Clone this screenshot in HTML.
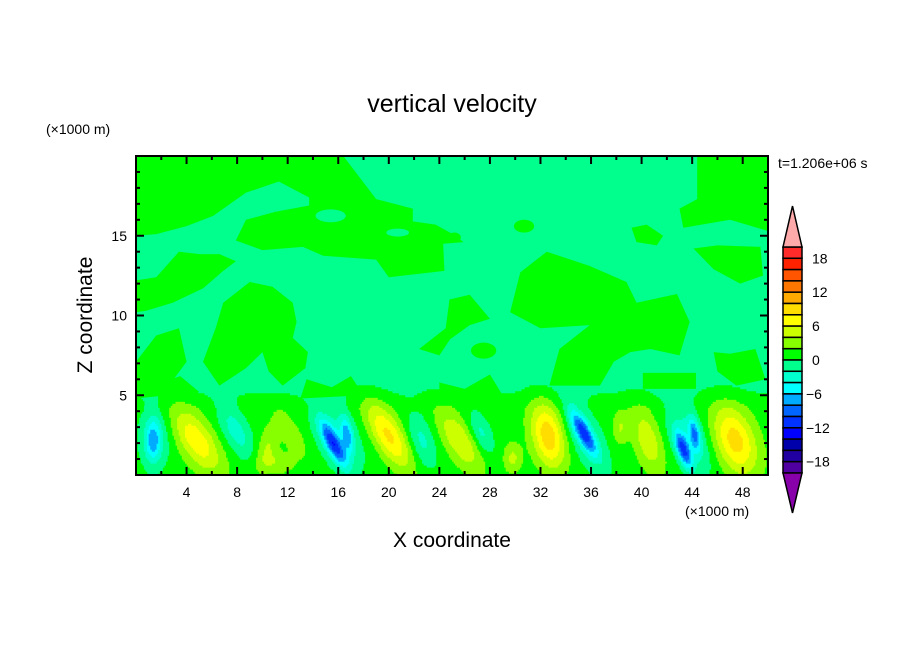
<!DOCTYPE html>
<html><head><meta charset="utf-8"><style>
html,body{margin:0;padding:0;background:#fff;}
svg{display:block;font-family:"Liberation Sans",sans-serif;}
</style></head><body>
<svg id="chart" width="904" height="654" viewBox="0 0 904 654">
<defs><clipPath id="clip"><rect x="136" y="156" width="632" height="319"/></clipPath></defs>
<text x="452" y="112" font-size="25" text-anchor="middle">vertical velocity</text>
<text x="46" y="134" font-size="14">(×1000 m)</text>
<text x="778" y="168" font-size="14">t=1.206e+06 s</text>
<text x="685" y="516" font-size="14">(×1000 m)</text>
<text x="452" y="547" font-size="21" text-anchor="middle">X coordinate</text>
<text transform="translate(92,315) rotate(-90)" font-size="21" text-anchor="middle">Z coordinate</text>
<g id="field" clip-path="url(#clip)"></g>
<g id="axes"></g>
<g id="cbar"></g>
</svg>
<script>
// field blobs near the ground (km, km, m/s, km, km, shear)
const blobX   = [4.8,1.35,1.5,7.9,10.4,12.3,11.2,15.6,16.7,16.0,20.0,22.6,25.6,27.3,29.8,32.6,35.4,35.6,38.3,40.5,43.3,44.2,43.8,47.4];
const blobZ   = [2.2,2.2,2.4,2.8,1.8,2.6,0.8,2.0,2.6,2.4,2.5,2.2,2.2,2.7,1.1,2.5,2.7,2.4,3.0,2.2,1.6,2.6,2.3,2.2];
const blobAmp = [6.5,-6,-3,-4,3,3,2.5,-10,-6,-3.5,7.5,-3.5,5,-3.5,3.5,8.5,-9,-4,3,4.5,-10,-7,-4,8];
const blobWx  = [1.5,0.6,1.3,1.1,0.8,0.8,1.4,0.65,0.45,1.7,1.25,1.0,1.25,0.8,0.7,1.25,0.6,1.3,0.6,1.1,0.5,0.4,1.5,1.6];
const blobWz  = [2.0,1.3,2.0,1.7,1.5,1.3,0.7,1.4,1.1,2.2,2.0,1.7,1.9,1.3,0.9,2.0,1.3,2.2,1.0,2.0,1.1,1.0,2.2,2.1];
const blobTilt= [0.6,0,0,0.5,-0.3,0.6,0,0.6,0.2,0.4,0.6,0.3,0.6,0.4,0,0.2,0.6,0.5,0,0.3,0.4,0.2,0.4,0.3];
const baselineLow = 1.0, baselineHigh = -1.0;
// green (0..2 m/s) regions in the upper domain, [x,z] km
const greenRegions = [
 [[0,20],[16.4,20],[19,17.3],[21.9,16.7],[21.9,15.9],[23.7,15.7],[25.3,15],[25.9,14.6],[24.3,14.5],[24.4,12.8],[20,12.4],[19,13.5],[14.8,13.75],[13.2,14.3],[10,14.1],[7.9,14.7],[8.7,16],[11,16.5],[13.7,16.9],[13.7,17.4],[11.3,18.4],[8.7,17.7],[6.1,16.25],[4,15.6],[1.6,15.1],[0,15]],
 [[0,12.2],[1.6,12.4],[3.4,14],[5,13.85],[6.6,13.85],[7.9,13.4],[6.9,12.8],[5.3,11.7],[2.9,10.8],[0.8,10.3],[0,10.2]],
 [[6.9,10.8],[9,12.1],[10.8,11.8],[12.4,10.8],[12.7,9.6],[12.4,8.6],[13.6,7.7],[13.4,6.7],[11.6,5.6],[10.5,6.5],[10,7.7],[8.7,6.7],[6.6,5.6],[5.3,7.1],[6.3,9.2]],
 [[0,7.1],[1.6,8.75],[3.4,9.2],[4,7.1],[2.6,5.6],[0,5.6]],
 [[22.4,7.9],[24.5,9.2],[24.8,11],[26.4,11.3],[28,9.8],[26.4,9.4],[24.84,8.5],[24,7.5]],
 [[32.5,14],[35.9,13.1],[38.8,12.1],[39.6,10.8],[42.8,11.35],[43.8,9.6],[43,7.5],[40.7,7.9],[39.1,7.7],[37.8,7.1],[36.7,5.6],[32.7,5.6],[33.5,7.9],[35.9,9.4],[32,9.2],[29.6,10.2],[30.4,12.7]],
 [[44.4,20],[50,20],[50,15.3],[47,16],[43.3,15.5],[43,16.7],[44.4,17.3]],
 [[39.2,15.5],[40.4,15.7],[41.7,15],[41.2,14.4],[39.6,14.6]],
 [[44.1,14.2],[46,14.4],[49.4,14.3],[49.6,12.5],[47.8,12],[45.7,12.9]],
 [[45.7,7.7],[47,7.6],[49,7.9],[49.8,6],[47.5,5.6],[46,6.5]],
 [[40.1,6.4],[44.3,6.4],[44.3,5.4],[40.1,5.4]],
 [[0,6.3],[2,5.8],[3.5,6.2],[5,5.2],[0,4.8]],
 [[13.5,6],[15.5,5.5],[17,6.2],[18,5],[13,4.8]],
 [[24,5.8],[26,5.4],[28,6.3],[29,5],[24,4.8]]
];
// spring-green holes / small green ellipses [x,z,rx,rz]
const holeEllipses = [[15.4,16.25,1.2,0.4],[20.7,15.2,0.9,0.25]];
const greenEllipses = [[30.7,15.6,0.8,0.4],[25.2,14.9,0.5,0.3],[27.5,7.8,1.0,0.5]];
const levelColors = ['#5000a0','#2000a0','#0000aa','#0000ff','#0033ff','#0066ff','#00aaff','#00ffff','#00ffcc','#00ff8c','#00ff00','#88ff00','#ccff00','#ffff00','#ffdd00','#ffaa00','#ff7700','#ff5500','#ff2200','#ff2a2a'];
const cbarTicks = [18,12,6,0,-6,-12,-18];
const xTicks = [4,8,12,16,20,24,28,32,36,40,44,48];
const zTicks = [5,10,15];

const NS='http://www.w3.org/2000/svg';
const X0=136,X1=768,Y0=475,Y1=156;
const sx=x=>X0+(X1-X0)*x/50, sz=z=>Y0-(Y0-Y1)*z/20;
function mk(tag,attrs,parent){const e=document.createElementNS(NS,tag);for(const k in attrs)e.setAttribute(k,attrs[k]);parent.appendChild(e);return e;}
const field=document.getElementById('field');
let r=mk('rect',{x:X0,y:Y1,width:X1-X0,height:Y0-Y1,fill:'#00ff8c'},field);


greenRegions.forEach(poly=>{
 const p=mk('polygon',{points:poly.map(q=>sx(q[0])+','+sz(q[1])).join(' '),fill:'#00ff00'},field);
 
 
});
greenEllipses.forEach(e=>{
 const el=mk('ellipse',{cx:sx(e[0]),cy:sz(e[1]),rx:sx(e[2])-X0,ry:Y0-sz(e[3]),fill:'#00ff00'},field);
 
 
});
holeEllipses.forEach(e=>{
 const el=mk('ellipse',{cx:sx(e[0]),cy:sz(e[1]),rx:sx(e[2])-X0,ry:Y0-sz(e[3]),fill:'#00ff8c'},field);
 
 
});
// low-level field grid
const dx=0.125,dz=0.125,NX=400,NZ=48;
function base(z){if(z<4.2)return baselineLow;if(z>6)return baselineHigh;return baselineLow+(baselineHigh-baselineLow)*(z-4.2)/1.8;}
function val(x,z){let v=base(z);for(let i=0;i<blobX.length;i++){const zz=(z-blobZ[i])/blobWz[i];const xx=((x-blobX[i])+blobTilt[i]*(z-blobZ[i]))/blobWx[i];v+=blobAmp[i]*Math.exp(-xx*xx-zz*zz);}return v;}
function col(v){let k=Math.floor(v/2)+10;k=Math.max(0,Math.min(19,k));return levelColors[k];}
for(let j=0;j<NZ;j++){
 const z=(j+0.5)*dz;let start=0,c=col(val(0.5*dx,z));
 for(let i=1;i<=NX;i++){
  const c2=i<NX?col(val((i+0.5)*dx,z)):null;
  if(c2!==c){
   if(!(z>4.4&&c==='#00ff8c')){
    const rc=mk('rect',{x:sx(start*dx),y:sz((j+1)*dz),width:sx(i*dx)-sx(start*dx)+0.6,height:sz(j*dz)-sz((j+1)*dz)+0.6,fill:c},field);
    
    
   }
   start=i;c=c2;
  }
 }
}
// axes
const ax=document.getElementById('axes');
mk('rect',{x:X0,y:Y1,width:X1-X0,height:Y0-Y1,fill:'none',stroke:'#000','stroke-width':2},ax);
for(let x=2;x<50;x+=2){const L=(x%4===0)?8:4;
 mk('line',{x1:sx(x),x2:sx(x),y1:Y0,y2:Y0-L,stroke:'#000','stroke-width':2},ax);
 mk('line',{x1:sx(x),x2:sx(x),y1:Y1,y2:Y1+L,stroke:'#000','stroke-width':2},ax);}
for(let z=1;z<20;z++){const L=(z%5===0)?8:4;
 mk('line',{x1:X0,x2:X0+L,y1:sz(z),y2:sz(z),stroke:'#000','stroke-width':2},ax);
 mk('line',{x1:X1,x2:X1-L,y1:sz(z),y2:sz(z),stroke:'#000','stroke-width':2},ax);}
xTicks.forEach(t=>{const e=mk('text',{x:sx(t),y:497,'font-size':14,'text-anchor':'middle'},ax);e.textContent=t;
 
 });
zTicks.forEach(t=>{const e=mk('text',{x:127,y:sz(t)+5,'font-size':14,'text-anchor':'end'},ax);e.textContent=t;
 
 });
// colorbar
const cb=document.getElementById('cbar');
const BX=783,BW=19,BT=247,BH=11.3;
levelColors.slice().reverse().forEach((c,i)=>{const b=mk('rect',{x:BX,y:BT+i*BH,width:BW,height:BH,fill:c,stroke:'#000','stroke-width':1.5},cb);
 
 });
const bot=BT+20*BH;
let t1=mk('polygon',{points:`${BX},${BT} ${BX+BW},${BT} ${BX+BW/2},206`,fill:'#ffaaaa',stroke:'#000','stroke-width':1.5},cb);


let t2=mk('polygon',{points:`${BX},${bot} ${BX+BW},${bot} ${BX+BW/2},513`,fill:'#8800aa',stroke:'#000','stroke-width':1.5},cb);


cbarTicks.forEach(t=>{const y=BT+(20-t)/2*BH;const e=mk('text',{x:t<0?806:812,y:y+5,'font-size':14},cb);e.textContent=t<0?'\u2212'+(-t):t;
 
 });
</script>
</body></html>
